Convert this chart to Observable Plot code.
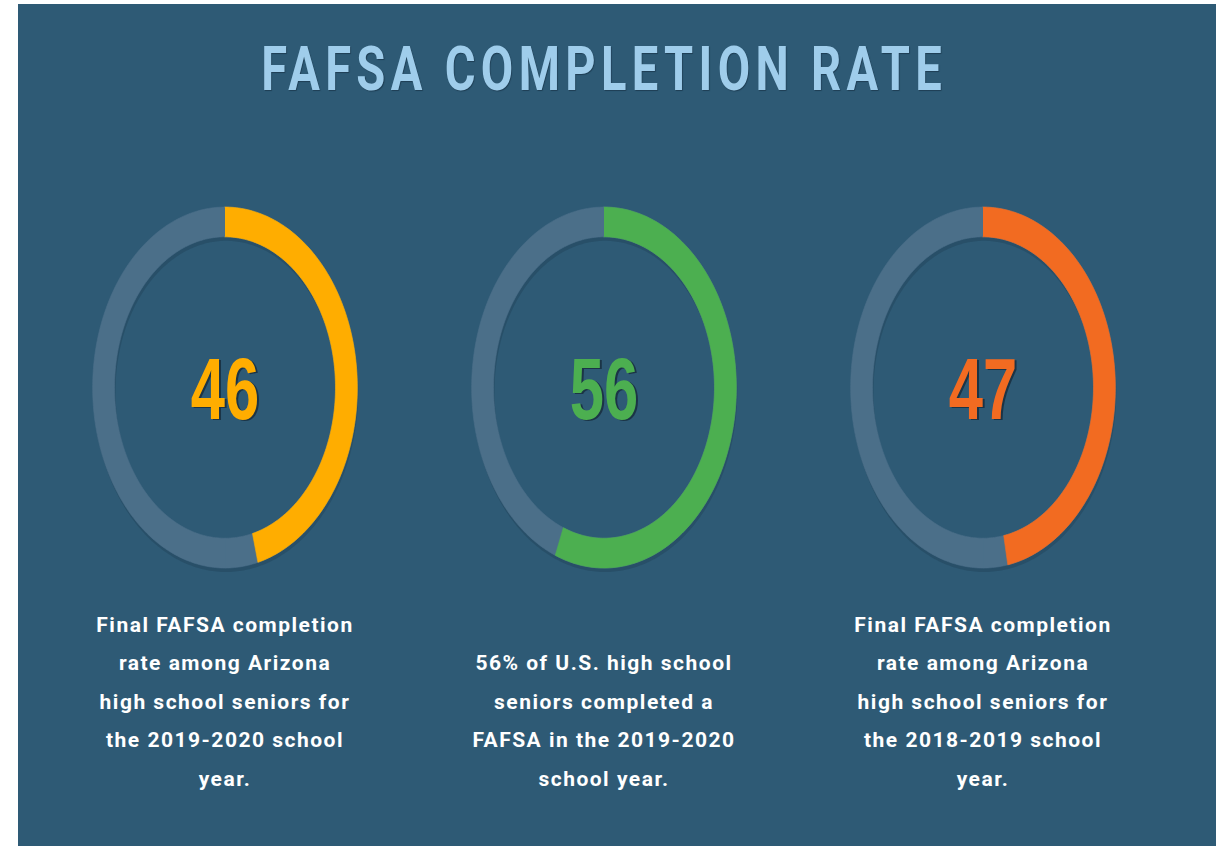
<!DOCTYPE html>
<html><head><meta charset="utf-8">
<script src="https://cdn.jsdelivr.net/npm/d3@7"></script>
<script src="https://cdn.jsdelivr.net/npm/@observablehq/plot@0.6"></script>
<style>
html,body{margin:0;padding:0;background:#fff;}
#panel{position:absolute;left:18px;top:4px;width:1198px;height:842px;background:#2e5a75;overflow:hidden;}
#title{height:130px;box-sizing:border-box;padding-top:34px;padding-right:33px;text-align:center;line-height:62px;font-family:Roboto,sans-serif;font-weight:700;font-size:62px;color:#9fcdeb;text-shadow:1px 1px 1px rgba(20,45,65,0.6);}
#title span{display:inline-block;letter-spacing:7px;margin-right:-7px;transform:scaleX(0.76);transform-origin:50% 50%;white-space:nowrap;}
#chart svg{display:block;}
</style></head>
<body>
<div id="panel"><div id="title"><span>FAFSA COMPLETION RATE</span></div><div id="chart"></div></div>
<script>
// ---- data ----
const ids = ["az2020", "us2020", "az2019"];
const rates = [46, 56, 47];
const colors = ["#ffad00", "#4caf50", "#f26b21"];
const captions = [
  "Final FAFSA completion\nrate among Arizona\nhigh school seniors for\nthe 2019-2020 school\nyear.",
  "56% of U.S. high school\nseniors completed a\nFAFSA in the 2019-2020\nschool year.",
  "Final FAFSA completion\nrate among Arizona\nhigh school seniors for\nthe 2018-2019 school\nyear."
];

const ringColor = "#4b6f89";
const rOuter = 1, rInner = 0.835;

// annulus segment polygon from fraction t0 to t1 (clockwise from top)
function segment(id, key, t0, t1, color) {
  const pts = [];
  const n = Math.max(2, Math.ceil(Math.abs(t1 - t0) * 360));
  for (let k = 0; k <= n; k++) {
    const a = 2 * Math.PI * (t0 + (t1 - t0) * k / n);
    pts.push({id, key, color, x: rOuter * Math.sin(a), y: rOuter * Math.cos(a)});
  }
  for (let k = n; k >= 0; k--) {
    const a = 2 * Math.PI * (t0 + (t1 - t0) * k / n);
    pts.push({id, key, color, x: rInner * Math.sin(a), y: rInner * Math.cos(a)});
  }
  return pts;
}

const rings = ids.map((id, i) => ({id, rate: rates[i], color: colors[i], caption: captions[i]}));
const tracks = rings.flatMap(d => [
  ...segment(d.id, d.id + "-a", 0, 0.5, ringColor),
  ...segment(d.id, d.id + "-b", 0.5, 1, ringColor)
]);
const values = rings.flatMap(d => segment(d.id, d.id + "-v", 0, d.rate / 100, d.color));

const plot = Plot.plot({
  width: 1198,
  height: 712,
  marginLeft: 16.25,
  marginRight: 43.25,
  marginTop: 0,
  marginBottom: 0,
  fx: {domain: ids, padding: 0, axis: null},
  x: {domain: [-1.432, 1.432], axis: null},
  y: {domain: [-2.543, 1.402], axis: null},
  color: {type: "identity"},
  style: {background: "transparent", overflow: "visible"},
  marks: [
    // soft shadow of ring
    Plot.line(tracks, {x: "x", y: "y", z: "key", fx: "id", fill: "#1c3b50", fillOpacity: 0.35, stroke: "none", dx: 1, dy: 4}),
    Plot.line(tracks, {x: "x", y: "y", z: "key", fx: "id", fill: ringColor, stroke: ringColor, strokeWidth: 0.6}),
    Plot.line(values, {x: "x", y: "y", z: "key", fx: "id", fill: "color", stroke: "color", strokeWidth: 0.6}),
    // value numbers (shadow + text)
    Plot.text(rings, {x: d => 0, y: d => 0, fx: "id", text: d => String(d.rate), fill: "#1b3446", fontSize: 88, fontWeight: 700, fontFamily: "Liberation Sans, Arial, sans-serif", dx: 2, dy: 4.5}),
    Plot.text(rings, {x: d => 0, y: d => 0, fx: "id", text: d => String(d.rate), fill: "color", fontSize: 88, fontWeight: 700, fontFamily: "Liberation Sans, Arial, sans-serif", dy: 3}),
    // captions
    Plot.text(rings, {fx: "id", frameAnchor: "bottom", lineAnchor: "bottom", dy: -61, text: "caption", fill: "#ffffff", fontSize: 21, fontWeight: 700, fontFamily: "Roboto, sans-serif", lineHeight: 1.833})
  ]
});

// condense the numbers horizontally, add letter spacing to captions
d3.select(plot).selectAll('g[font-size="88"] text').each(function() {
  const t = this.getAttribute("transform");
  if (t) this.setAttribute("transform", t + " scale(0.70,1)");
  else {
    const x = +this.getAttribute("x") || 0, y = +this.getAttribute("y") || 0;
    this.removeAttribute("x"); this.removeAttribute("y");
    this.setAttribute("transform", `translate(${x},${y}) scale(0.70,1)`);
  }
});
d3.select(plot).selectAll('g[font-size="21"]').style("letter-spacing", "1.5px");

document.getElementById("chart").appendChild(plot);
</script>
</body></html>
